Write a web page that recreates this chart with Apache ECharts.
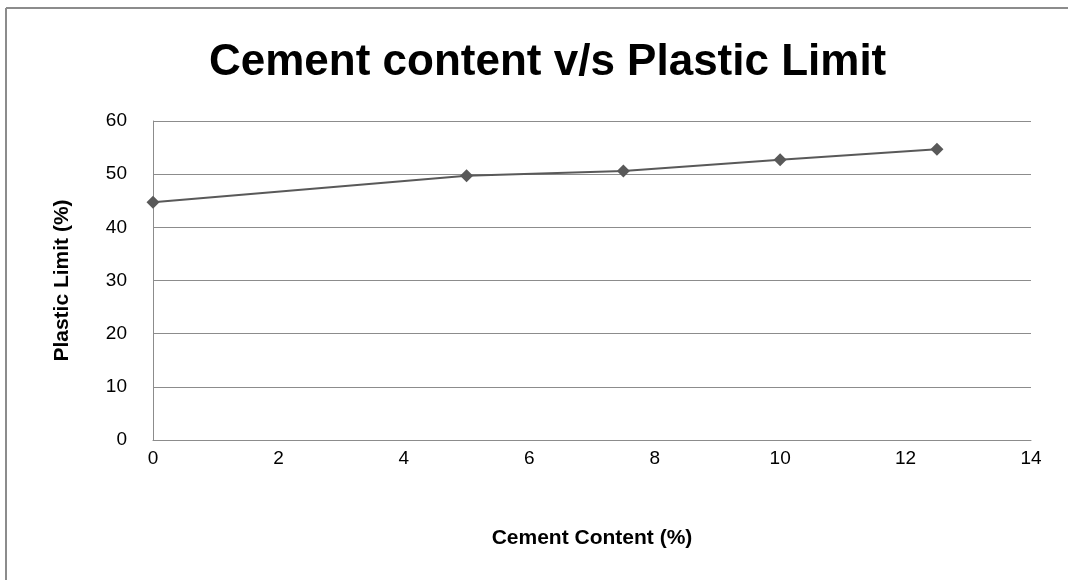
<!DOCTYPE html>
<html><head><meta charset="utf-8">
<script src="https://cdn.jsdelivr.net/npm/echarts@6/dist/echarts.min.js"></script>
<style>html,body{margin:0;padding:0;background:#fff}#c{width:1068px;height:580px}</style>
</head><body><div id="c"></div>
<script>
const cementContent = [0, 5, 7.5, 10, 12.5];
const plasticLimit = [44.7, 49.7, 50.6, 52.7, 54.7];
const titleText = 'Cement content v/s Plastic Limit';
const xName = 'Cement Content (%)';
const yName = 'Plastic Limit (%)';

const chart = echarts.init(document.getElementById('c'));
const font = '"Liberation Sans", sans-serif';
chart.setOption({
  animation: false,
  backgroundColor: '#fff',
  title: {
    text: titleText, left: 204, top: 36,
    textStyle: { fontFamily: font, fontSize: 44, fontWeight: 'bold', color: '#000' }
  },
  graphic: [
    { type: 'line', shape: { x1: 6, y1: 8, x2: 1068, y2: 8 }, style: { stroke: '#8c8c8c', lineWidth: 2 } },
    { type: 'line', shape: { x1: 6, y1: 8, x2: 6, y2: 580 }, style: { stroke: '#8c8c8c', lineWidth: 2 } }
  ],
  grid: { left: 153, right: 37, top: 121, bottom: 140 },
  xAxis: {
    type: 'value', min: 0, max: 14, interval: 2,
    name: xName, nameLocation: 'middle', nameGap: 88,
    nameTextStyle: { fontFamily: font, fontSize: 21, fontWeight: 'bold', color: '#000' },
    axisLine: { lineStyle: { color: '#8c8c8c', width: 1 } },
    axisTick: { show: false },
    axisLabel: { margin: 9, fontFamily: font, fontSize: 19, color: '#000' },
    splitLine: { show: false }
  },
  yAxis: {
    type: 'value', min: 0, max: 60, interval: 10,
    name: yName, nameLocation: 'middle', nameGap: 80,
    nameTextStyle: { fontFamily: font, fontSize: 21, fontWeight: 'bold', color: '#000' },
    axisLine: { show: true, lineStyle: { color: '#8c8c8c', width: 1 } },
    axisTick: { show: false },
    axisLabel: { margin: 26, fontFamily: font, fontSize: 19, color: '#000' },
    splitLine: { lineStyle: { color: '#8c8c8c', width: 1 } }
  },
  series: [{
    type: 'line',
    data: cementContent.map((x, i) => [x, plasticLimit[i]]),
    symbol: 'diamond', symbolSize: 13,
    itemStyle: { color: '#595959' },
    lineStyle: { color: '#595959', width: 2 }
  }]
});
</script></body></html>
